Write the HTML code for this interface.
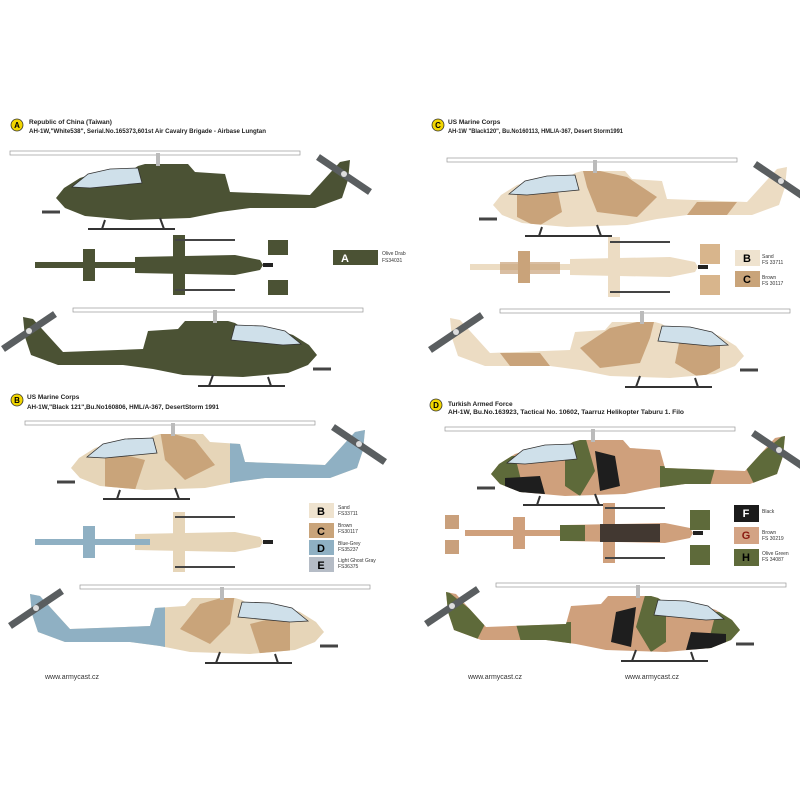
<!DOCTYPE html>
<html><head><meta charset="utf-8"><style>
html,body{margin:0;padding:0;background:#fff;}
svg{display:block;font-family:"Liberation Sans",sans-serif;}
.h{font-size:6.5px;font-weight:bold;fill:#222;}
.s{font-size:5px;fill:#333;}
.lg{font-size:11px;font-weight:bold;text-anchor:middle;}
</style></head><body>
<svg width="800" height="800" viewBox="0 0 800 800" xmlns="http://www.w3.org/2000/svg">
<defs>
<path id="fus" d="M6,48 L14,38 L30,28 L55,20 L85,18 L88,16 L95,14 L138,14 L145,22 L175,24 L180,42 L260,45 L290,12 L300,10 L298,30 L292,48 L265,58 L200,58 L170,62 L140,68 L80,70 L35,66 L15,58 Z"/>
<clipPath id="fc"><use href="#fus"/></clipPath>
<g id="common">
  <rect x="-40" y="1" width="290" height="4" fill="#fff" stroke="#999" stroke-width="0.7"/>
  <rect x="106" y="3" width="4" height="13" fill="#bbb"/>
  <line x1="268" y1="7" x2="320" y2="42" stroke="#5a5e60" stroke-width="7"/>
  <circle cx="294" cy="24" r="3" fill="#ddd"/>
  <path d="M10,62 L-8,62" stroke="#444" stroke-width="3"/>
  <path d="M38,79 L125,79 M55,70 L52,79 M110,68 L114,79" stroke="#333" stroke-width="2" fill="none"/>
  <path d="M22,37 L38,24 L60,19 L88,18 L92,33 L40,38 Z" fill="#cfe0ea" stroke="#333" stroke-width="0.8"/>
</g>
<g id="hA"><use href="#fus" fill="#4b5234"/><use href="#common"/></g>
<g id="hB"><use href="#fus" fill="#e6d5b8"/>
 <g clip-path="url(#fc)"><path d="M40,30 L80,40 L70,70 L40,70 Z M95,10 L130,20 L150,45 L120,60 L100,40 Z" fill="#c9a47a"/><rect x="165" y="0" width="140" height="80" fill="#8fb0c3"/></g>
 <use href="#common"/></g>
<g id="hC"><use href="#fus" fill="#ecdcc3"/>
 <g clip-path="url(#fc)"><path d="M30,35 L70,30 L75,55 L50,70 L30,60 Z M95,10 L140,20 L170,40 L150,60 L110,55 L100,30 Z M210,45 L250,45 L240,58 L200,58 Z" fill="#c9a37a"/></g>
 <use href="#common"/></g>
<g id="hD"><use href="#fus" fill="#cfa07c"/>
 <g clip-path="url(#fc)"><path d="M0,30 L30,30 L40,70 L0,70 Z M80,10 L100,10 L110,45 L95,70 L80,60 Z M175,40 L230,42 L225,60 L175,62 Z M260,40 L310,0 L310,60 L270,60 Z" fill="#5e6a3a"/><path d="M20,52 L55,50 L60,68 L20,66 Z M110,25 L130,30 L135,60 L115,65 Z" fill="#1e1e1e"/></g>
 <use href="#common"/></g>
<g id="top">
  <rect x="0" y="-3" width="110" height="6"/>
  <rect x="48" y="-16" width="12" height="32"/>
  <path d="M100,-8 L200,-10 L225,-5 L228,0 L225,5 L200,10 L100,8 Z"/>
  <rect x="138" y="-30" width="12" height="60"/>
  <rect x="140" y="-26" width="60" height="2" fill="#444"/>
  <rect x="140" y="24" width="60" height="2" fill="#444"/>
  <path d="M228,0 L238,0" stroke="#222" stroke-width="4"/>
</g>
</defs>

<!-- headers -->
<circle cx="17" cy="125" r="6" fill="#f2d600" stroke="#333" stroke-width="0.8"/><text x="17" y="128" font-size="8" text-anchor="middle" font-weight="bold">A</text>
<text x="29" y="124" class="h">Republic of China (Taiwan)</text>
<text x="29" y="133" class="h" textLength="237" lengthAdjust="spacingAndGlyphs">AH-1W,"White538", Serial.No.165373,601st Air Cavalry Brigade - Airbase Lungtan</text>
<circle cx="438" cy="125" r="6" fill="#f2d600" stroke="#333" stroke-width="0.8"/><text x="438" y="128" font-size="8" text-anchor="middle" font-weight="bold">C</text>
<text x="448" y="124" class="h">US Marine Corps</text>
<text x="448" y="133" class="h" textLength="175" lengthAdjust="spacingAndGlyphs">AH-1W "Black120", Bu.No160113, HML/A-367, Desert Storm1991</text>
<circle cx="17" cy="400" r="6" fill="#f2d600" stroke="#333" stroke-width="0.8"/><text x="17" y="403" font-size="8" text-anchor="middle" font-weight="bold">B</text>
<text x="27" y="399" class="h">US Marine Corps</text>
<text x="27" y="409" class="h" textLength="192" lengthAdjust="spacingAndGlyphs">AH-1W,"Black 121",Bu.No160806, HML/A-367, DesertStorm 1991</text>
<circle cx="436" cy="405" r="6" fill="#f2d600" stroke="#333" stroke-width="0.8"/><text x="436" y="408" font-size="8" text-anchor="middle" font-weight="bold">D</text>
<text x="448" y="406" class="h">Turkish Armed Force</text>
<text x="448" y="414" class="h" textLength="236" lengthAdjust="spacingAndGlyphs">AH-1W, Bu.No.163923, Tactical No. 10602, Taarruz Helikopter Taburu 1. Filo</text>

<!-- side views -->
<use href="#hA" transform="translate(50,150)"/>
<use href="#hA" transform="translate(323,307) scale(-1,1)"/>
<use href="#hB" transform="translate(65,420)"/>
<use href="#hB" transform="translate(330,584) scale(-1,1)"/>
<use href="#hC" transform="translate(487,157)"/>
<use href="#hC" transform="translate(750,308) scale(-1,1)"/>
<use href="#hD" transform="translate(485,426)"/>
<use href="#hD" transform="translate(746,582) scale(-1,1)"/>

<!-- top views -->
<use href="#top" fill="#4b5234" transform="translate(35,265)"/>
<use href="#top" fill="#e6d5b8" transform="translate(35,542)"/>
<rect x="35" y="539" width="115" height="6" fill="#8fb0c3"/><rect x="83" y="526" width="12" height="32" fill="#8fb0c3"/>
<use href="#top" fill="#ecdcc3" transform="translate(470,267)"/>
<rect x="500" y="262" width="60" height="12" fill="#c9a37a" opacity="0.7"/><rect x="518" y="251" width="12" height="32" fill="#c9a37a"/>
<use href="#top" fill="#cfa07c" transform="translate(465,533)"/>
<rect x="600" y="524" width="60" height="18" fill="#1e1e1e" opacity="0.8"/><rect x="560" y="525" width="25" height="16" fill="#5e6a3a"/>

<!-- wing tips -->
<rect x="268" y="240" width="20" height="15" fill="#4b5234"/><rect x="268" y="280" width="20" height="15" fill="#4b5234"/>
<rect x="700" y="244" width="20" height="20" fill="#d8b58c"/><rect x="700" y="275" width="20" height="20" fill="#d8b58c"/>
<rect x="690" y="510" width="20" height="20" fill="#5e6a3a"/><rect x="690" y="545" width="20" height="20" fill="#5e6a3a"/>
<rect x="445" y="515" width="14" height="14" fill="#c9a07c"/><rect x="445" y="540" width="14" height="14" fill="#c9a07c"/>

<!-- legends -->
<rect x="333" y="250" width="45" height="15" fill="#4b5234"/><text x="345" y="262" class="lg" fill="#fff">A</text>
<text x="382" y="255" class="s">Olive Drab</text><text x="382" y="262" class="s">FS34031</text>
<rect x="309" y="503" width="25" height="15" fill="#efe3cf"/><text x="321" y="515" class="lg">B</text>
<rect x="309" y="523" width="25" height="15" fill="#c9a47a"/><text x="321" y="535" class="lg">C</text>
<rect x="309" y="540" width="25" height="15" fill="#8fb0c3"/><text x="321" y="552" class="lg">D</text>
<rect x="309" y="557" width="25" height="15" fill="#b5bcc6"/><text x="321" y="569" class="lg">E</text>
<text x="338" y="509" class="s">Sand</text><text x="338" y="515" class="s">FS33711</text>
<text x="338" y="527" class="s">Brown</text><text x="338" y="533" class="s">FS30117</text>
<text x="338" y="545" class="s">Blue-Grey</text><text x="338" y="551" class="s">FS35237</text>
<text x="338" y="562" class="s">Light Ghost Gray</text><text x="338" y="568" class="s">FS36375</text>
<rect x="735" y="250" width="25" height="16" fill="#efe3cf"/><text x="747" y="262" class="lg">B</text>
<rect x="735" y="271" width="25" height="16" fill="#c9a47a"/><text x="747" y="283" class="lg">C</text>
<text x="762" y="258" class="s">Sand</text><text x="762" y="264" class="s">FS 33711</text>
<text x="762" y="279" class="s">Brown</text><text x="762" y="285" class="s">FS 30117</text>
<rect x="734" y="505" width="25" height="17" fill="#1b1b1b"/><text x="746" y="517" class="lg" fill="#fff">F</text>
<rect x="734" y="527" width="25" height="17" fill="#d3a384"/><text x="746" y="539" class="lg" fill="#8a1a10">G</text>
<rect x="734" y="549" width="25" height="17" fill="#5e6a3a"/><text x="746" y="561" class="lg">H</text>
<text x="762" y="513" class="s">Black</text>
<text x="762" y="534" class="s">Brown</text><text x="762" y="540" class="s">FS 30219</text>
<text x="762" y="555" class="s">Olive Green</text><text x="762" y="561" class="s">FS 34087</text>

<text x="45" y="679" font-size="7" fill="#333">www.armycast.cz</text>
<text x="468" y="679" font-size="7" fill="#333">www.armycast.cz</text>
<text x="625" y="679" font-size="7" fill="#333">www.armycast.cz</text>
</svg>
</body></html>
